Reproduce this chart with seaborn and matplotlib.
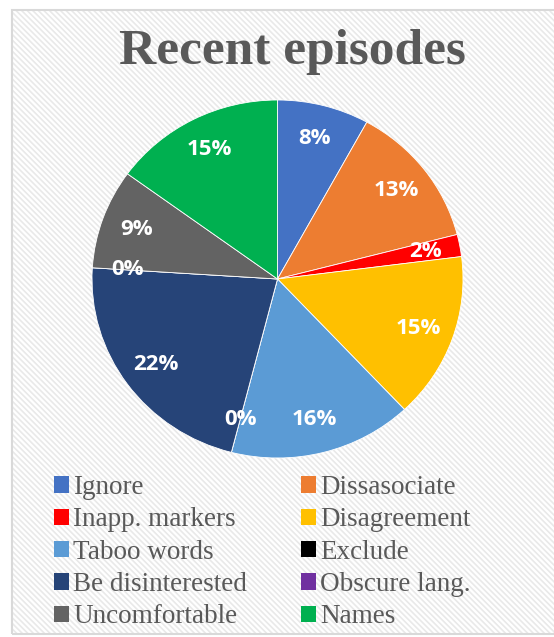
import matplotlib
matplotlib.use("Agg")
import matplotlib.pyplot as plt
import seaborn as sns
from matplotlib.patches import Rectangle, Patch

categories = ["Ignore", "Dissasociate", "Inapp. markers", "Disagreement", "Taboo words",
              "Exclude", "Be disinterested", "Obscure lang.", "Uncomfortable", "Names"]
values = [8, 13, 2, 15, 16, 0, 22, 0, 9, 15]
colors = ["#4472C4", "#ED7D31", "#FF0000", "#FFC000", "#5B9BD5",
          "#000000", "#264478", "#7030A0", "#636363", "#00B050"]
title = "Recent episodes"

sns.set_theme(style="white")
plt.rcParams["hatch.linewidth"] = 1.2
palette = sns.color_palette(colors)

W, H = 554, 637
fig = plt.figure(figsize=(W / 100, H / 100), dpi=100)
fig.patch.set_facecolor("white")

# chart area background with light diagonal hatch
fig.patches.append(Rectangle((12 / W, 1 - 634 / H), 560 / W, 624 / H, transform=fig.transFigure,
                             facecolor="white", edgecolor="#e9e9e9", hatch="\\\\\\\\\\\\", linewidth=0, zorder=-3))
fig.patches.append(Rectangle((12 / W, 1 - 634 / H), 560 / W, 624 / H, transform=fig.transFigure,
                             facecolor="none", edgecolor="#d9d9d9", linewidth=1.5, zorder=-2))

cx, cy, rx, ry = 277.5, 279, 185.5, 179
ax = fig.add_axes([(cx - rx) / W, 1 - (cy + ry) / H, 2 * rx / W, 2 * ry / H])
ax.set_zorder(1)
ax.patch.set_visible(False)
wedges, texts, autotexts = ax.pie(values, colors=palette, startangle=90, counterclock=False,
                                  autopct=lambda p: f"{round(p)}%", pctdistance=0.81,
                                  wedgeprops=dict(edgecolor="white", linewidth=0.6),
                                  textprops=dict(color="white", fontsize=16, fontweight="bold",
                                                 family="Open Sans"))
ax.set_aspect("auto")
ax.set_xlim(-1, 1)
ax.set_ylim(-1, 1)
ax.axis("off")

fig.text(292 / W, 1 - 52 / H, title, ha="center", va="center", fontsize=37, fontweight="bold",
         color="#595959", family="Liberation Serif")

order = [0, 2, 4, 6, 8, 1, 3, 5, 7, 9]
handles = [Patch(facecolor=palette[i], edgecolor="none") for i in order]
labels = [categories[i] for i in order]
leg = fig.legend(handles, labels, loc="upper left", bbox_to_anchor=(54 / W, 1 - 475 / H),
                 ncol=2, frameon=False, borderpad=0, borderaxespad=0,
                 handlelength=0.55, handleheight=0.55, handletextpad=0.15,
                 labelspacing=0.27, columnspacing=2.0,
                 prop=dict(family="Liberation Serif", size=19.5))
for t in leg.get_texts():
    t.set_color("#595959")

fig.savefig("out.png", dpi=100)
